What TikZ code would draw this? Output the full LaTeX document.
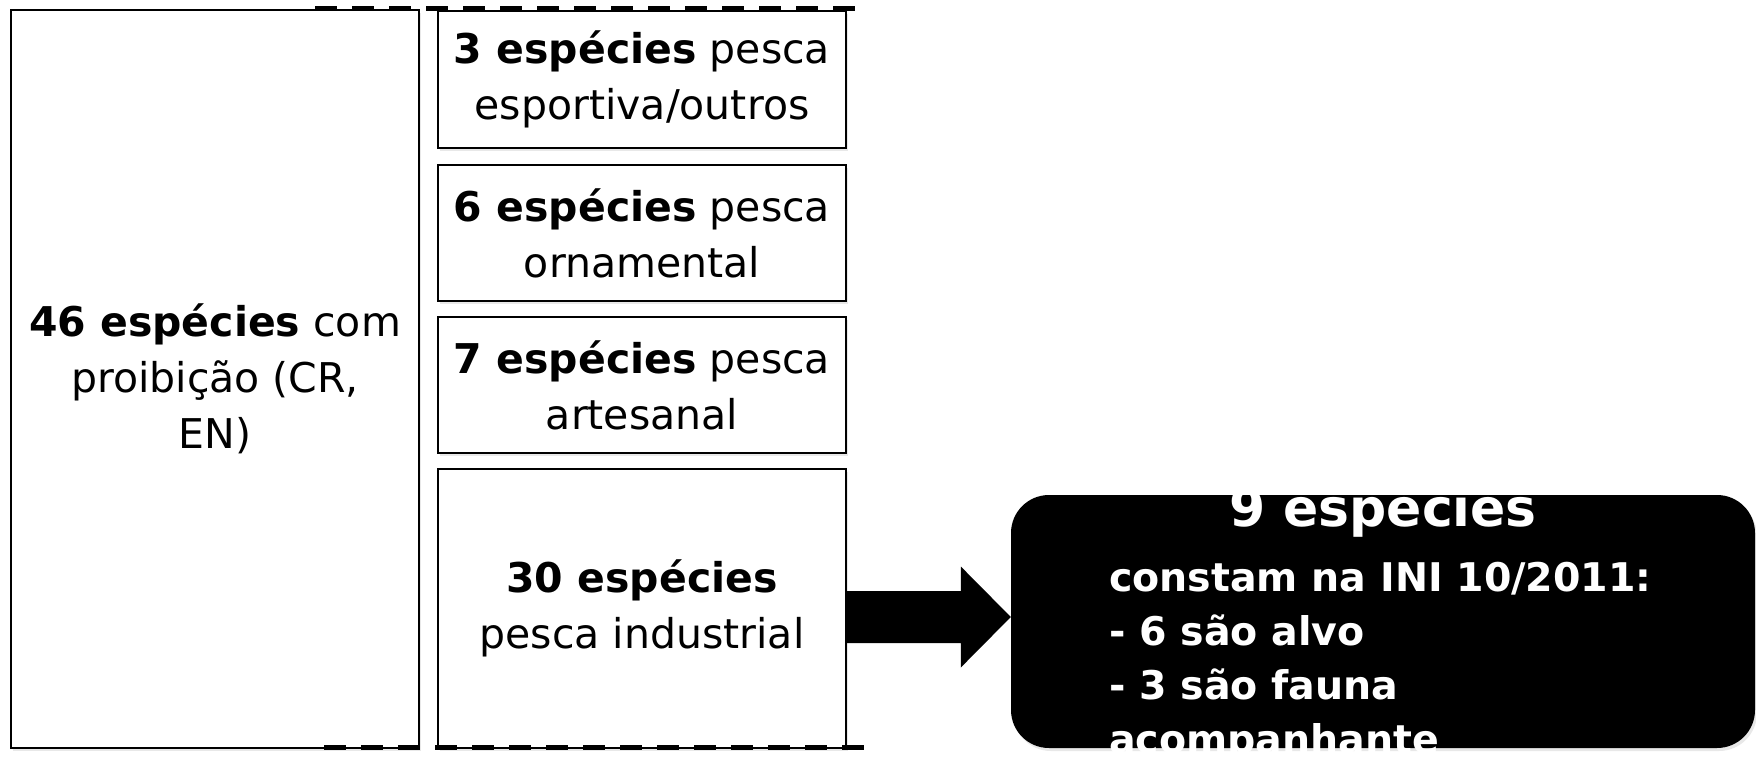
\documentclass[tikz,border=0pt]{standalone}
\usepackage{fontspec}
\setmainfont{DejaVu Sans}
\usetikzlibrary{calc,shadows}

\tikzset{
  caixa/.style={draw, line width=1.8pt, fill=white, align=center, inner sep=0pt,
    font=\fontsize{41}{56}\selectfont,
    drop shadow={opacity=0.18, shadow xshift=2pt, shadow yshift=-3pt}},
  corte/.style={line width=5pt, dash pattern=on 22pt off 15pt},
  alvo/.style={fill=black, rounded corners=38pt, inner sep=0pt,
    drop shadow={opacity=0.18, shadow xshift=2pt, shadow yshift=-3pt}},
  branco/.style={text=white, inner sep=0pt, font=\bfseries\fontsize{39.5}{54}\selectfont}
}

\begin{document}
\begin{tikzpicture}[x=1pt,y=-1pt]
\useasboundingbox (0,0) rectangle (1756,759);

\node[caixa, minimum width=408pt, minimum height=738pt] (todas) at (215,379) {\textbf{46 espécies} com\\proibição (CR,\\EN)};

\node[caixa, minimum width=408pt, minimum height=137pt] (esport) at (642,79.5) {\textbf{3 espécies} pesca\\esportiva/outros};
\node[caixa, minimum width=408pt, minimum height=136pt] (ornam) at (642,233) {\textbf{6 espécies} pesca\\ornamental};
\node[caixa, minimum width=408pt, minimum height=136pt] (artes) at (642,385) {\textbf{7 espécies} pesca\\artesanal};
\node[caixa, minimum width=408pt, minimum height=279pt] (indust) at (642,608.5) {\textbf{30 espécies}\\pesca industrial};

% caixa preta
\node[alvo, minimum width=744pt, minimum height=253pt] (ini) at (1383,621.5) {};
\node[branco, font=\bfseries\fontsize{52}{60}\selectfont] (nove) at (1383,511) {9 espécies};
\node[branco, anchor=west, align=left] (lista) at (1109,662) {constam na INI 10/2011:\\- 6 são alvo\\- 3 são fauna\\acompanhante};

% seta
\coordinate (ponta) at ([yshift=4.5pt]ini.west);
\fill ($(indust.east |- ponta)+(0,-26)$) -- ($(ponta)+(-50,-26)$) -- ($(ponta)+(-50,-50.5)$) -- (ponta)
  -- ($(ponta)+(-50,50.5)$) -- ($(ponta)+(-50,26)$) -- ($(indust.east |- ponta)+(0,26)$) -- cycle;

% linhas tracejadas
\coordinate (t1) at (315,8.5);
\coordinate (t2) at (858,8.5);
\coordinate (b1) at (324,747);
\coordinate (b2) at (868,747);
\draw[corte] (t1) -- (t2);
\draw[corte] (b1) -- (b2);

\end{tikzpicture}
\end{document}
